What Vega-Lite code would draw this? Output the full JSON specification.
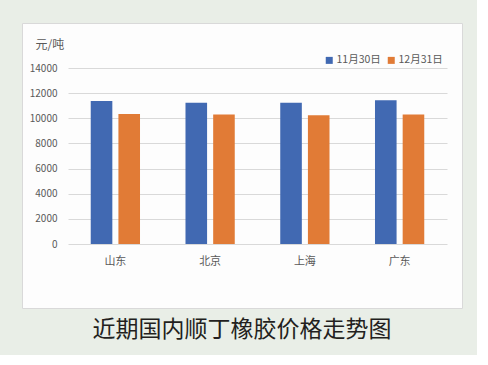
{
  "$schema": "https://vega.github.io/schema/vega-lite/v6.json",
  "width": 440,
  "height": 285,
  "autosize": {"type": "none"},
  "padding": {"left": 22, "top": 23, "right": 15, "bottom": 47},
  "background": "#E9EEE7",
  "title": {
    "text": "近期国内顺丁橡胶价格走势图",
    "orient": "bottom",
    "anchor": "middle",
    "offset": 11,
    "fontSize": 23,
    "font": "Noto Sans CJK SC",
    "fontWeight": "normal",
    "color": "#231F20"
  },
  "data": {
    "values": [
      {"region": "山东", "date": "11月30日", "price": 11380},
      {"region": "山东", "date": "12月31日", "price": 10340},
      {"region": "北京", "date": "11月30日", "price": 11240},
      {"region": "北京", "date": "12月31日", "price": 10310},
      {"region": "上海", "date": "11月30日", "price": 11240},
      {"region": "上海", "date": "12月31日", "price": 10240},
      {"region": "广东", "date": "11月30日", "price": 11430},
      {"region": "广东", "date": "12月31日", "price": 10310}
    ]
  },
  "mark": {"type": "bar"},
  "encoding": {
    "x": {
      "field": "region",
      "type": "nominal",
      "sort": null,
      "scale": {"range": [46, 425], "paddingInner": 0.48, "paddingOuter": 0.24},
      "axis": {
        "title": null,
        "domain": false,
        "ticks": false,
        "tickSize": 0,
        "offset": -57,
        "labelPadding": 4,
        "labelFontSize": 11,
        "labelColor": "#595959",
        "labelAngle": 0,
        "grid": false
      }
    },
    "xOffset": {
      "field": "date",
      "sort": null,
      "scale": {"paddingInner": 0.22, "paddingOuter": 0}
    },
    "y": {
      "field": "price",
      "type": "quantitative",
      "scale": {"domain": [0, 14000], "range": [221, 45], "nice": false},
      "axis": {
        "title": "元/吨",
        "titleAngle": 0,
        "titleAlign": "left",
        "titleBaseline": "top",
        "titleX": -26,
        "titleY": 16,
        "titleFontSize": 12,
        "titleFontWeight": "normal",
        "titleColor": "#595959",
        "values": [0, 2000, 4000, 6000, 8000, 10000, 12000, 14000],
        "format": "d",
        "domain": false,
        "ticks": false,
        "tickSize": 0,
        "offset": -39,
        "labelPadding": 4,
        "labelFontSize": 10,
        "labelColor": "#595959",
        "grid": true,
        "gridColor": "#D9D9D9"
      }
    },
    "color": {
      "field": "date",
      "type": "nominal",
      "scale": {"domain": ["11月30日", "12月31日"], "range": ["#4169B2", "#E17B36"]},
      "legend": {
        "orient": "none",
        "legendX": 302,
        "legendY": 32,
        "direction": "horizontal",
        "title": null,
        "symbolType": "square",
        "symbolSize": 49,
        "labelFontSize": 10.5,
        "labelColor": "#595959",
        "columnPadding": 5,
        "labelOffset": 2
      }
    }
  },
  "config": {
    "font": "Noto Sans CJK SC",
    "view": {"fill": "#FDFDFD", "stroke": "#D9D9D9"}
  }
}
